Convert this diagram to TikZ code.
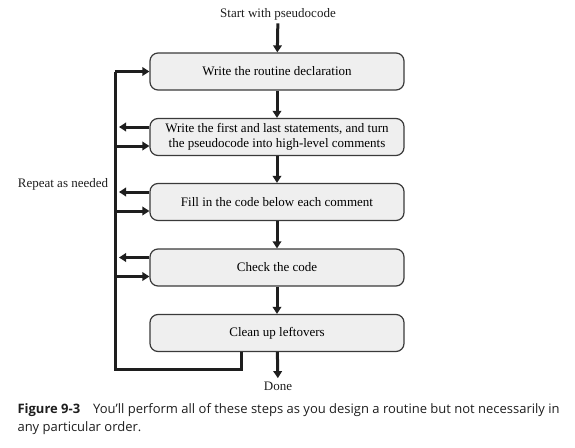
\documentclass[tikz,border=0pt]{standalone}
\usepackage{fontspec}
\setmainfont{Liberation Serif}
\newfontfamily\capfont{Open Sans}
\usepackage{tikz}
\usetikzlibrary{arrows.meta}

\definecolor{boxfill}{HTML}{EFEFEF}
\definecolor{boxline}{HTML}{3A3A3A}
\definecolor{ink}{HTML}{1E1E1E}

\begin{document}
\begin{tikzpicture}
		[
			x=1pt, y=-1pt,
			align=center,
			font=\fontsize{13}{14.5}\selectfont,
			stepbox/.style={draw=boxline, fill=boxfill, line width=1.2pt, rounded corners=8pt,
				minimum width=254pt, minimum height=37pt, inner sep=0pt},
			label/.style={draw=none, fill=none, text=ink},
			arrow/.style={-{Triangle[length=7pt,width=8.5pt]}, line width=3pt, draw=ink},
			loopline/.style={line width=3pt, draw=ink, line join=miter}
		]

		\useasboundingbox (0,0) rectangle (575,447);

		% steps
		\node[label]    (start) at ( 278, 14.0 ) {Start with pseudocode};
		\node[stepbox]  (b1)    at ( 277, 71.5 ) {Write the routine declaration};
		\node[stepbox]  (b2)    at ( 277, 137.0 ) {Write the first and last statements, and turn\\the pseudocode into high-level comments};
		\node[stepbox]  (b3)    at ( 277, 202.0 ) {Fill in the code below each comment};
		\node[stepbox]  (b4)    at ( 277, 267.5 ) {Check the code};
		\node[stepbox]  (b5)    at ( 277, 333.0 ) {Clean up leftovers};
		\node[label]    (done)  at ( 278, 386.0 ) {Done};

		% repeat label
		\node[label] (repeat) at ( 63, 184.0 ) {Repeat as needed};

		% main flow
		\draw[arrow] (start) -- (b1);
		\foreach \from/\to in {b1/b2,b2/b3,b3/b4,b4/b5}
		\draw[arrow] (\from) -- (\to);
		\draw[arrow] (b5) -- (done);

		% loop back line
		\coordinate (lt) at ( 115, 71.5 );
		\coordinate (lb) at ( 115, 369 );
		\coordinate (lr) at ( 241, 369 );
		\draw[loopline] (lr |- b5.south) -- (lr) -- (lb) -- (lt);
		\draw[arrow] (lt) -- (b1.west);

		% arrows into and out of the loop
		\foreach \b in {b2,b3,b4}
		{
			\draw[arrow, shorten >=4pt] ([yshift=10pt]\b.west) -- ([yshift=10pt]\b.west -| lt);
			\draw[arrow] ([yshift=-9pt]\b.west -| lt) -- ([yshift=-9pt]\b.west);
		}

		% caption
		\node[label, anchor=west, align=left, font=\capfont\fontsize{13}{18}\selectfont] (caption) at ( 14, 419.5 )
			{\textbf{Figure 9-3}\hspace{1em}You’ll perform all of these steps as you design a routine but not necessarily in\\any particular order.};

	\end{tikzpicture}
\end{document}
